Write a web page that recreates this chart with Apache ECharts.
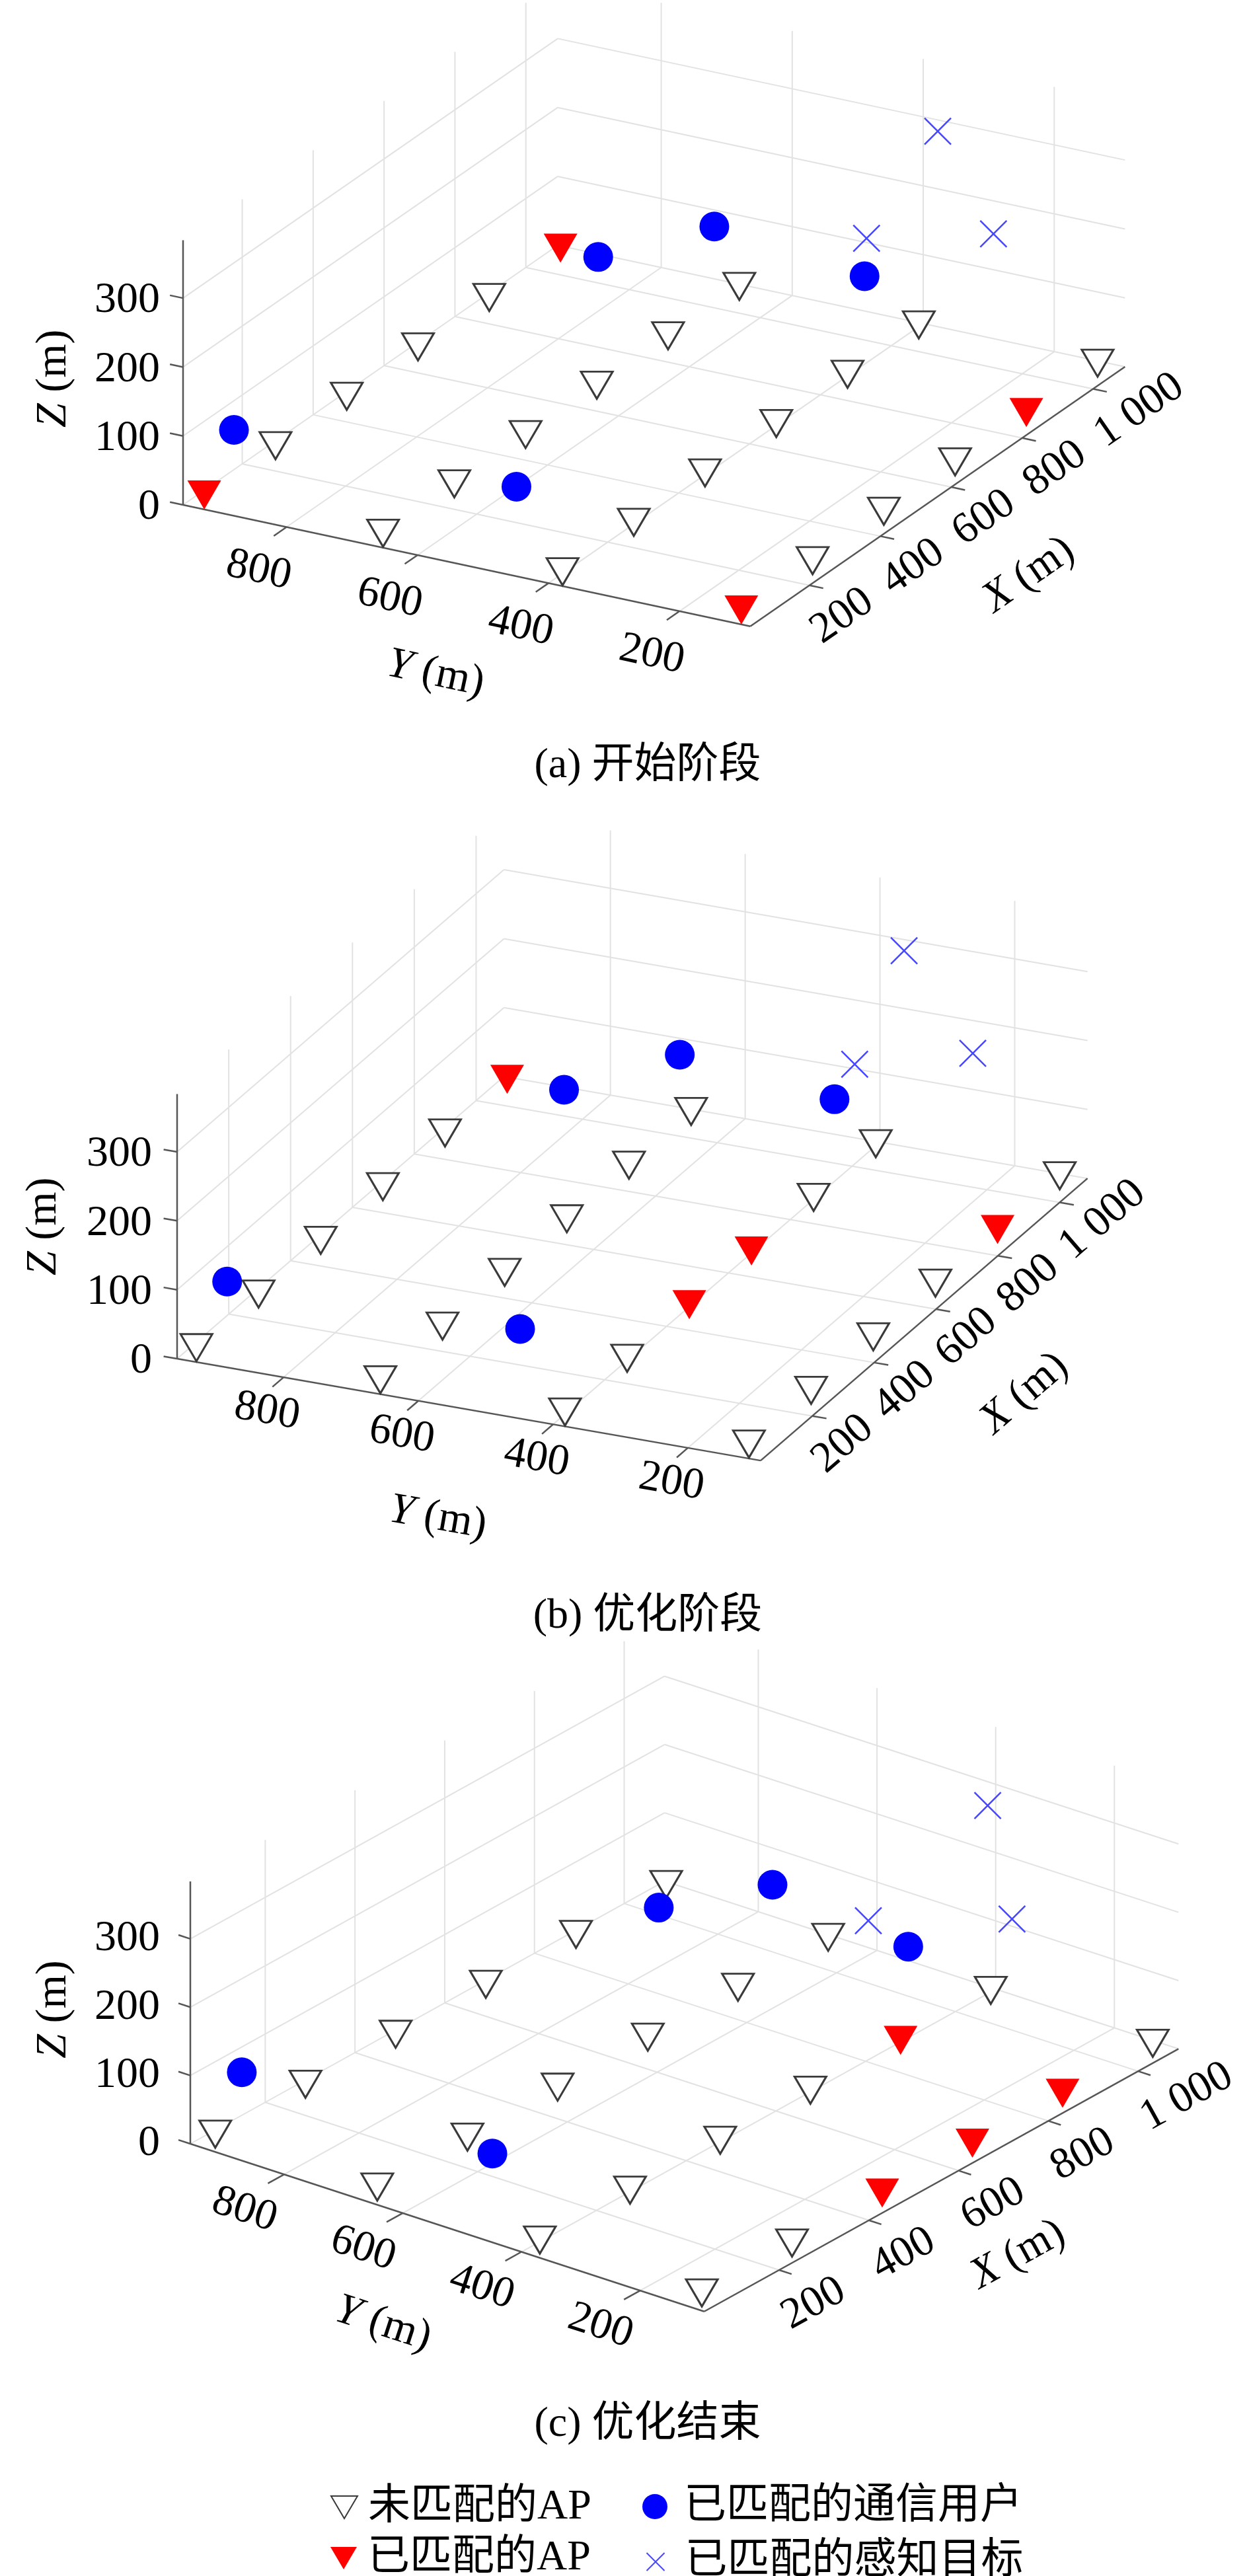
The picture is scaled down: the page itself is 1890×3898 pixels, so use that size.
<!DOCTYPE html>
<html>
<head>
<meta charset="utf-8">
<script src="https://cdn.jsdelivr.net/npm/echarts@6/dist/echarts.min.js"></script>
<style>
html, body { margin: 0; padding: 0; background: #fff; }
#main { width: 1890px; height: 3898px; }
</style>
</head>
<body>
<div id="main"></div>
<script>
(function () {
	// AP grid (m), the APs stand on the ground
	var apX = [78, 279, 480, 681, 882, 1083];
	var apY = [130, 403, 677, 950];
	var apZ = 0;
	// matched communication users
	var userX = [75, 33, 757, 824, 821];
	var userY = [903, 449, 716, 575, 344];
	var userZ = [105, 130, 151, 200, 176];
	// matched sensing targets
	var targetX = [924, 494, 719];
	var targetY = [288, 164, 92];
	var targetZ = [361, 384, 325];
	// matched APs in each stage, [x index, y index] into the AP grid
	var matchedStart = [[0, 0], [4, 0], [0, 3], [5, 3]];
	var matchedMid = [[2, 1], [3, 1], [4, 0], [5, 3]];
	var matchedEnd = [[2, 0], [3, 0], [4, 0], [4, 1]];
	var captions = ['(a) 开始阶段', '(b) 优化阶段', '(c) 优化结束'];
	// axis limits and ticks
	var xLim = [33, 1090], yLim = [92, 958], zLim = [0, 384];
	var xTicks = [200, 400, 600, 800, 1000];
	var xTickLabels = ['200', '400', '600', '800', '1 000'];
	var yTicks = [200, 400, 600, 800];
	var zTicks = [0, 100, 200, 300];

	var W = 1890;
	var SERIF = '"Liberation Serif", "Noto Sans CJK SC"';
	var FS = 66;
	var DOWN_TRIANGLE = 'path://M0,0L48,0L24,41Z';

	// one orthographic view per stage: azimuth/elevation, px per metre on each axis,
	// where the Z axis foot lands on the page, and label offsets in px
	var panels = [
		{ matched: matchedStart, az: -60.93, el: 22.65, scale: [1.104, 1.134, 1.130], corner: [277, 764],
		  top: 0, height: 1290, captionY: 1163,
		  zLabOff: [-35, 4], yLabOff: [-42, 66], xLabOff: [9, 75],
		  zNameOff: [-195, 9], yNameOff: [-47, 164], xNameOff: [138, 119] },
		{ matched: matchedMid, az: -65.79, el: 22.84, scale: [1.141, 1.118, 1.132], corner: [268, 2056],
		  top: 1290, height: 1270, captionY: 2450,
		  zLabOff: [-38, 4], yLabOff: [-25, 52], xLabOff: [9, 75],
		  zNameOff: [-201, 0], yNameOff: [-47, 164], xNameOff: [152, 112] },
		{ matched: matchedEnd, az: -52.49, el: 25.16, scale: [1.115, 1.132, 1.142], corner: [288, 3244],
		  top: 2560, height: 1338, captionY: 3673,
		  zLabOff: [-46, 0], yLabOff: [-60, 54], xLabOff: [9, 75],
		  zNameOff: [-206, -5], yNameOff: [-97, 146], xNameOff: [116, 113] }
	];

	//3D -> view plane (px from the Z axis foot, v upwards)
	function project(p, X, Y, Z) {
		var a = p.az * Math.PI / 180, e = p.el * Math.PI / 180;
		var dx = (X - xLim[0]) * p.scale[0];
		var dy = (Y - yLim[1]) * p.scale[1];
		var dz = (Z - zLim[0]) * p.scale[2];
		return [dx * Math.cos(a) + dy * Math.sin(a),
			-dx * Math.sin(a) * Math.sin(e) + dy * Math.cos(a) * Math.sin(e) + dz * Math.cos(e)];
	}
	function seg(p, a, b) {
		var s = project(p, a[0], a[1], a[2]), t = project(p, b[0], b[1], b[2]);
		return [s[0], s[1], t[0], t[1]];
	}

	function gridSegments(p) {
		var out = [];
		xTicks.forEach(function (x) {
			out.push(seg(p, [x, yLim[0], zLim[0]], [x, yLim[1], zLim[0]]));
			out.push(seg(p, [x, yLim[1], zLim[0]], [x, yLim[1], zLim[1]]));
		});
		yTicks.forEach(function (y) {
			out.push(seg(p, [xLim[0], y, zLim[0]], [xLim[1], y, zLim[0]]));
			out.push(seg(p, [xLim[1], y, zLim[0]], [xLim[1], y, zLim[1]]));
		});
		zTicks.forEach(function (z) {
			out.push(seg(p, [xLim[0], yLim[1], z], [xLim[1], yLim[1], z]));
			out.push(seg(p, [xLim[1], yLim[0], z], [xLim[1], yLim[1], z]));
		});
		return out;
	}
	function axisSegments(p) {
		var out = [
			seg(p, [xLim[0], yLim[1], zLim[0]], [xLim[0], yLim[1], zLim[1]]),
			seg(p, [xLim[0], yLim[0], zLim[0]], [xLim[0], yLim[1], zLim[0]]),
			seg(p, [xLim[0], yLim[0], zLim[0]], [xLim[1], yLim[0], zLim[0]])
		];
		zTicks.forEach(function (z) { out.push(seg(p, [xLim[0], yLim[1], z], [xLim[0], yLim[1] + 20, z])); });
		yTicks.forEach(function (y) { out.push(seg(p, [xLim[0], y, zLim[0]], [xLim[0] - 36, y, zLim[0]])); });
		xTicks.forEach(function (x) { out.push(seg(p, [x, yLim[0], zLim[0]], [x, yLim[0] - 21, zLim[0]])); });
		return out;
	}

	function labelItems(p) {
		var ux = project(p, xLim[0] + 100, yLim[1], zLim[0]);
		var uy = project(p, xLim[0], yLim[1] - 100, zLim[0]);
		var rx = Math.atan2(ux[1], ux[0]), ry = Math.atan2(uy[1], uy[0]);
		var items = [];
		zTicks.forEach(function (z) {
			items.push({ pos: [xLim[0], yLim[1], z], text: String(z), off: p.zLabOff, align: 'right', rot: 0 });
		});
		yTicks.forEach(function (y) {
			items.push({ pos: [xLim[0], y, zLim[0]], text: String(y), off: p.yLabOff, align: 'center', rot: ry });
		});
		xTicks.forEach(function (x, j) {
			items.push({ pos: [x, yLim[0], zLim[0]], text: xTickLabels[j], off: p.xLabOff, align: 'left', rot: rx });
		});
		items.push({ pos: [xLim[0], yLim[1], (zLim[0] + zLim[1]) / 2], text: '{i|Z} (m)', off: p.zNameOff, align: 'center', rot: Math.PI / 2 });
		items.push({ pos: [xLim[0], (yLim[0] + yLim[1]) / 2, zLim[0]], text: '{i|Y} (m)', off: p.yNameOff, align: 'center', rot: ry });
		items.push({ pos: [(xLim[0] + xLim[1]) / 2, yLim[0], zLim[0]], text: '{i|X} (m)', off: p.xNameOff, align: 'center', rot: rx });
		return items;
	}

	function segmentSeries(i, segs, color, width, z) {
		return {
			type: 'custom', xAxisIndex: i, yAxisIndex: i, silent: true, z: z,
			data: segs,
			renderItem: function (params, api) {
				var a = api.coord([api.value(0), api.value(1)]);
				var b = api.coord([api.value(2), api.value(3)]);
				return {
					type: 'line',
					shape: { x1: a[0], y1: a[1], x2: b[0], y2: b[1] },
					style: { stroke: color, lineWidth: width }
				};
			}
		};
	}
	function labelSeries(i, p) {
		var items = labelItems(p);
		return {
			type: 'custom', xAxisIndex: i, yAxisIndex: i, silent: true, z: 6,
			data: items.map(function (it, j) {
				var uv = project(p, it.pos[0], it.pos[1], it.pos[2]);
				return [uv[0], uv[1], j];
			}),
			renderItem: function (params, api) {
				var it = items[api.value(2)];
				var pt = api.coord([api.value(0), api.value(1)]);
				return {
					type: 'text',
					x: pt[0] + it.off[0], y: pt[1] + it.off[1], rotation: it.rot,
					style: {
						text: it.text, align: it.align, verticalAlign: 'middle',
						fontSize: FS, fontFamily: SERIF, fill: '#000',
						rich: { i: { fontSize: FS, fontFamily: SERIF, fontStyle: 'italic', fill: '#000' } }
					}
				};
			}
		};
	}
	function scatterSeries(i, name, pts, style) {
		var s = {
			type: 'scatter', name: name, xAxisIndex: i, yAxisIndex: i, z: 4, clip: false,
			silent: true, data: pts
		};
		for (var k in style) s[k] = style[k];
		return s;
	}

	var grids = [], xAxes = [], yAxes = [], series = [], titles = [];
	panels.forEach(function (p, i) {
		grids.push({ left: 0, top: p.top, width: W, height: p.height, outerBoundsMode: 'none' });
		xAxes.push({ gridIndex: i, type: 'value', show: false, min: -p.corner[0], max: W - p.corner[0] });
		yAxes.push({ gridIndex: i, type: 'value', show: false, min: p.corner[1] - p.top - p.height, max: p.corner[1] - p.top });

		series.push(segmentSeries(i, gridSegments(p), '#e2e2e2', 2, 1));
		series.push(segmentSeries(i, axisSegments(p), '#565656', 2.5, 2));

		var free = [], used = [];
		apY.forEach(function (y, r) {
			apX.forEach(function (x, c) {
				var isUsed = p.matched.some(function (q) { return q[0] === c && q[1] === r; });
				(isUsed ? used : free).push(project(p, x, y, apZ));
			});
		});
		var users = userX.map(function (x, j) { return project(p, x, userY[j], userZ[j]); });
		var targets = targetX.map(function (x, j) { return project(p, x, targetY[j], targetZ[j]); });

		series.push(scatterSeries(i, '未匹配的AP', free, {
			symbol: DOWN_TRIANGLE, symbolSize: [48, 41],
			itemStyle: { color: '#ffffff', borderColor: '#3a3a3a', borderWidth: 3, opacity: 1 }
		}));
		series.push(scatterSeries(i, '已匹配的AP', used, {
			symbol: DOWN_TRIANGLE, symbolSize: [51, 44],
			itemStyle: { color: '#ff0000', opacity: 1 }
		}));
		series.push(scatterSeries(i, '已匹配的通信用户', users, {
			symbol: 'circle', symbolSize: 45,
			itemStyle: { color: '#0000ff', opacity: 1 }
		}));
		series.push(scatterSeries(i, '已匹配的感知目标', targets, {
			symbol: 'path://M0,0L10,10M10,0L0,10', symbolSize: 40,
			itemStyle: { color: 'transparent', borderColor: '#4646ff', borderWidth: 2.5, opacity: 1 }
		}));
		series.push(labelSeries(i, p));

		titles.push({
			text: captions[i], left: 980, top: p.captionY - 36, textAlign: 'center', padding: 0,
			textStyle: { fontSize: 64, fontWeight: 'normal', fontFamily: SERIF, color: '#000' }
		});
	});

	function legendItem(name, iconX, rowY, w, h, pad) {
		return {
			data: [name], left: iconX - w / 2, top: rowY - h / 2, padding: 0,
			itemWidth: w, itemHeight: h, selectedMode: false,
			textStyle: { fontSize: 64, fontFamily: SERIF, color: '#000', padding: [0, 0, 0, pad] }
		};
	}

	var myChart = echarts.init(document.getElementById('main'));
	myChart.setOption({
		backgroundColor: '#ffffff',
		animation: false,
		title: titles,
		legend: [
			legendItem('未匹配的AP', 520, 3780, 40, 36, 11),
			legendItem('已匹配的通信用户', 991, 3780, 38, 38, 20),
			legendItem('已匹配的AP', 520, 3858, 40, 38, 11),
			legendItem('已匹配的感知目标', 991, 3858, 27, 27, 26)
		],
		grid: grids,
		xAxis: xAxes,
		yAxis: yAxes,
		series: series
	});
}());
</script>
</body>
</html>
